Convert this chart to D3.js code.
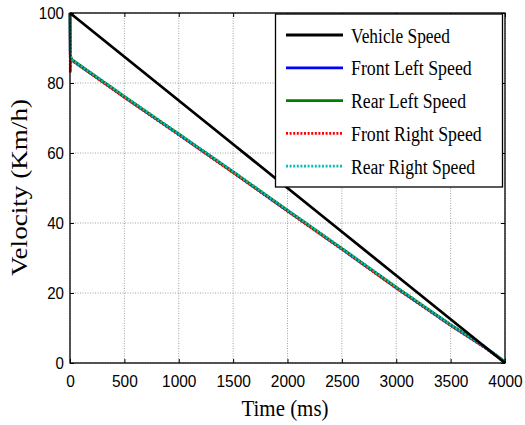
<!DOCTYPE html>
<html><head><meta charset="utf-8">
<script src="https://cdn.jsdelivr.net/npm/d3@7"></script>
<style>body{margin:0;background:#fff}svg{display:block}</style>
</head><body>
<script>
const xTicks = [0,500,1000,1500,2000,2500,3000,3500,4000];
const yTicks = [0,20,40,60,80,100];
const seriesNames = ["Vehicle Speed","Front Left Speed","Rear Left Speed","Front Right Speed","Rear Right Speed"];
const vehicleTime = [0,500,1000,1500,2000,2500,3000,3500,4000];
const vehicleSpeed = [100,87.5,75,62.5,50,37.5,25,12.5,0];
const wheelTime = [0,3,8,20,500,1000,1500,2000,2500,3000,3500,3800,4000];
const frontLeft  = [100,87.5,87,86.5,76,65.3,54.5,43.5,32.6,21.5,10.8,4.8,0.3];
const rearLeft   = [100,88,87.2,86.6,76.1,65.4,54.6,43.6,32.7,21.6,10.9,4.9,0.3];
const frontRight = [100,83,86.5,86.4,75.9,65.2,54.4,43.4,32.5,21.4,10.7,4.7,0.2];
const rearRight  = [100,89,87.5,86.7,76.2,65.5,54.7,43.7,32.8,21.7,11,5,0.4];
const colors = ["#000000","#0000ff","#008000","#ff0000","#00bfbf"];
const dashed = [false,false,false,true,true];

const W=525,H=425, L=70,R=505,T=13,B=363;
const SERIF="'Liberation Serif','Times New Roman',serif";
const SANS="'Liberation Sans',Arial,sans-serif";
const svg=d3.select("body").append("svg").attr("width",W).attr("height",H);
const x=d3.scaleLinear().domain([0,4000]).range([L,R]);
const y=d3.scaleLinear().domain([0,100]).range([B,T]);

// grid
const g=svg.append("g");
g.selectAll(".gx").data(xTicks).join("line").attr("x1",d=>x(d)).attr("x2",d=>x(d)).attr("y1",T).attr("y2",B)
 .attr("stroke","#8a8a8a").attr("stroke-width",0.8).attr("stroke-dasharray","1,1.5");
g.selectAll(".gy").data(yTicks).join("line").attr("y1",d=>y(d)).attr("y2",d=>y(d)).attr("x1",L).attr("x2",R)
 .attr("stroke","#8a8a8a").attr("stroke-width",0.8).attr("stroke-dasharray","1,1.5");

// axes
const fmt=d3.format("d");
const xa=svg.append("g").attr("transform",`translate(0,${B})`).call(d3.axisBottom(x).tickValues(xTicks).tickFormat(fmt).tickSizeInner(-4).tickSizeOuter(0));
const ya=svg.append("g").attr("transform",`translate(${L},0)`).call(d3.axisLeft(y).tickValues(yTicks).tickFormat(fmt).tickSizeInner(-4).tickSizeOuter(0));
svg.append("g").attr("transform",`translate(0,${T})`).call(d3.axisTop(x).tickValues(xTicks).tickSizeInner(-4).tickSizeOuter(0).tickFormat(""));
svg.append("g").attr("transform",`translate(${R},0)`).call(d3.axisRight(y).tickValues(yTicks).tickSizeInner(-4).tickSizeOuter(0).tickFormat(""));
svg.selectAll(".domain").attr("stroke","none");
svg.selectAll(".tick line").attr("stroke","#000");
svg.selectAll(".tick text").attr("font-family",SANS).attr("font-size","17px").attr("fill","#000").attr("lengthAdjust","spacingAndGlyphs");
xa.selectAll(".tick text").attr("y",24).attr("dy",null).attr("textLength",function(){return this.textContent.length*8.6;});
ya.selectAll(".tick text").attr("x",-6).attr("dy","0.35em").attr("textLength",function(){return this.textContent.length*8.4;});

// series
const data=[
  vehicleTime.map((t,i)=>[t,vehicleSpeed[i]]),
  wheelTime.map((t,i)=>[t,frontLeft[i]]),
  wheelTime.map((t,i)=>[t,rearLeft[i]]),
  wheelTime.map((t,i)=>[t,frontRight[i]]),
  wheelTime.map((t,i)=>[t,rearRight[i]])
];
const line=d3.line().x(d=>x(d[0])).y(d=>y(d[1]));
const order=[1,2,3,4,0];
order.forEach(i=>{
  svg.append("path").attr("d",line(data[i])).attr("fill","none").attr("stroke",colors[i])
    .attr("stroke-width",2.8).attr("stroke-dasharray",dashed[i]?"2,1.6":null);
});

// frame
svg.append("rect").attr("x",L).attr("y",T).attr("width",R-L).attr("height",B-T).attr("fill","none").attr("stroke","#000").attr("stroke-width",1.3);

// legend
const legendWidths=[99,120.7,115,130.7,124];
const lg=svg.append("g");
lg.append("rect").attr("x",275.5).attr("y",14).attr("width",227).attr("height",173).attr("fill","#fff").attr("stroke","#000").attr("stroke-width",1.3);
seriesNames.forEach((n,i)=>{
  const yy=35+i*32.8;
  lg.append("line").attr("x1",286).attr("x2",343).attr("y1",yy).attr("y2",yy).attr("stroke",colors[i]).attr("stroke-width",2.8)
    .attr("stroke-dasharray",dashed[i]?"2,1.6":null);
  lg.append("text").attr("x",351).attr("y",yy+7.5).attr("font-family",SERIF)
    .attr("font-size","20px").attr("textLength",legendWidths[i]).attr("lengthAdjust","spacingAndGlyphs").text(n);
});

// titles
svg.append("text").attr("x",285).attr("y",416).attr("text-anchor","middle").attr("font-family",SERIF).attr("font-size","23px")
  .attr("textLength",87).attr("lengthAdjust","spacingAndGlyphs").text("Time (ms)");
svg.append("text").attr("transform",`translate(27,187.5) rotate(-90)`).attr("text-anchor","middle").attr("font-family",SERIF).attr("font-size","23px")
  .attr("textLength",177).attr("lengthAdjust","spacingAndGlyphs").text("Velocity (Km/h)");
</script>
</body></html>
